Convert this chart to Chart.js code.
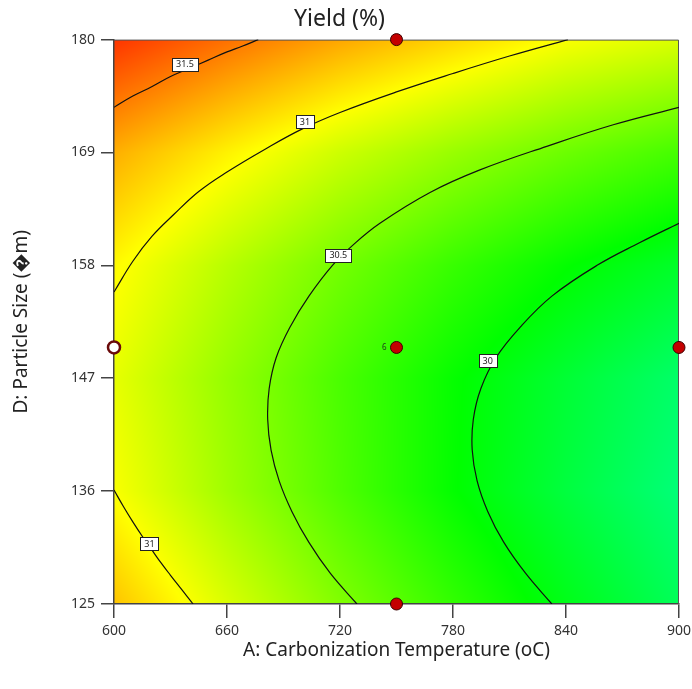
<!DOCTYPE html>
<html lang="en">
<head>
<meta charset="UTF-8">
<title>Yield (%) contour</title>
<style>
  body { margin: 0; background: #ffffff; }
  .wrap { width: 692px; height: 689px; }
</style>
</head>
<body>
<div class="wrap"><canvas id="contour"></canvas></div>
<script src="https://cdn.jsdelivr.net/npm/chart.js"></script>
<script>
// factor grid (the tick positions) and the yield read at each node
const tempTicks = [600, 660, 720, 780, 840, 900];
const sizeTicks = [125, 136, 147, 158, 169, 180];
const yield125 = [31.25, 30.88, 30.54, 30.24, 29.96, 29.71];
const yield136 = [31.00, 30.66, 30.35, 30.06, 29.81, 29.59];
const yield147 = [30.93, 30.62, 30.33, 30.07, 29.85, 29.65];
const yield158 = [31.04, 30.75, 30.49, 30.26, 30.06, 29.89];
const yield169 = [31.33, 31.07, 30.83, 30.63, 30.46, 30.31];
const yield180 = [31.80, 31.57, 31.36, 31.18, 31.00, 30.88];
const yieldGrid = [yield125, yield136, yield147, yield158, yield169, yield180];

// colour ramp of the response
const colorLevels = [28.1, 29.07, 30.05, 31.02, 32.0];
const colorStops = [[0, 0, 255], [0, 255, 255], [0, 255, 0], [255, 255, 0], [255, 0, 0]];

// contour lines (temperature, particle size)
const c315Temp = [600, 610, 620, 630, 640, 650, 660, 668, 676.6];
const c315Size = [173.4, 174.5, 175.4, 176.4, 177.2, 178.0, 178.8, 179.35, 180];
const c31aTemp = [600, 610, 620, 632, 645, 660, 680, 700, 720, 750, 780, 810, 841];
const c31aSize = [155.4, 158.4, 160.8, 163.0, 165.2, 167.1, 169.3, 171.3, 172.9, 174.9, 176.7, 178.4, 180];
const c31bTemp = [600, 605, 610, 615, 620, 625, 630, 636, 642];
const c31bSize = [136.1, 134.5, 133.0, 131.6, 130.3, 129.0, 127.8, 126.4, 125];
const c305Temp = [729, 714.8, 703.5, 694.5, 687.7, 683.4, 681.6, 682.4, 686.1, 693.5, 703.5, 716, 727, 741.2, 767.8, 794.3, 829.8, 865.1, 900];
const c305Size = [125, 128, 131, 134, 137, 140, 143, 146, 149, 152, 155, 158, 160, 162.1, 165.1, 167.3, 169.6, 171.7, 173.4];
const c30Temp = [832.5, 818.5, 807, 798.5, 792.8, 790.2, 790.8, 794.8, 802.8, 815.8, 832.5, 856.5, 879, 900];
const c30Size = [125, 128, 131, 134, 137, 140, 143, 146, 149, 152, 155, 158, 160.2, 162.1];

// contour labels
const labelText = ['31.5', '31', '30.5', '30', '31'];
const labelTemp = [637.7, 701.4, 719.1, 798.4, 618.8];
const labelSize = [177.6, 172.0, 159.0, 148.7, 130.9];

// design points
const designTemp = [750, 750, 900, 750];
const designSize = [180, 150, 150, 125];
const openTemp = [600];
const openSize = [150];
const centerRuns = '6';

const FONT = "'Noto Sans', 'DejaVu Sans', sans-serif";

function pts(xs, ys) {
    return xs.map((v, i) => ({x: v, y: ys[i]}));
}

function seg(arr, v) {
    let i = 0;
    while (i < arr.length - 2 && v > arr[i + 1]) i++;
    return i;
}

function gridValue(a, d) {
    const i = seg(tempTicks, a), j = seg(sizeTicks, d);
    const tx = (a - tempTicks[i]) / (tempTicks[i + 1] - tempTicks[i]);
    const ty = (d - sizeTicks[j]) / (sizeTicks[j + 1] - sizeTicks[j]);
    const r0 = yieldGrid[j], r1 = yieldGrid[j + 1];
    const lo = r0[i] + (r0[i + 1] - r0[i]) * tx;
    const hi = r1[i] + (r1[i + 1] - r1[i]) * tx;
    return lo + (hi - lo) * ty;
}

function colorFor(z) {
    if (z <= colorLevels[0]) return colorStops[0];
    const n = colorLevels.length - 1;
    if (z >= colorLevels[n]) return colorStops[n];
    let k = 0;
    while (z > colorLevels[k + 1]) k++;
    const t = (z - colorLevels[k]) / (colorLevels[k + 1] - colorLevels[k]);
    const c0 = colorStops[k], c1 = colorStops[k + 1];
    return [0, 1, 2].map(m => Math.round(c0[m] + (c1[m] - c0[m]) * t));
}

// filled response surface behind everything
const heatmap = {
    id: 'heatmap',
    beforeDraw(chart) {
        const {ctx, chartArea: ca, scales: {x, y}} = chart;
        const left = Math.round(ca.left), top = Math.round(ca.top);
        const w = Math.round(ca.right) - left, h = Math.round(ca.bottom) - top;
        const off = document.createElement('canvas');
        off.width = w; off.height = h;
        const octx = off.getContext('2d');
        const img = octx.createImageData(w, h);
        for (let j = 0; j < h; j++) {
            const d = y.getValueForPixel(top + j + 0.5);
            for (let i = 0; i < w; i++) {
                const a = x.getValueForPixel(left + i + 0.5);
                const c = colorFor(gridValue(a, d));
                const k = (j * w + i) * 4;
                img.data[k] = c[0];
                img.data[k + 1] = c[1];
                img.data[k + 2] = c[2];
                img.data[k + 3] = 255;
            }
        }
        octx.putImageData(img, 0, 0);
        ctx.drawImage(off, left, top);
    },
    beforeDatasetsDraw(chart) {
        // top and right edges of the frame
        const {ctx, chartArea: ca} = chart;
        ctx.save();
        ctx.strokeStyle = '#555';
        ctx.lineWidth = 1;
        ctx.beginPath();
        ctx.moveTo(ca.left, ca.top + 0.5);
        ctx.lineTo(ca.right - 0.5, ca.top + 0.5);
        ctx.lineTo(ca.right - 0.5, ca.bottom);
        ctx.stroke();
        ctx.restore();
    }
};

// boxed contour labels and the replicate count
const contourLabels = {
    id: 'contourLabels',
    afterDatasetsDraw(chart) {
        const {ctx, scales: {x, y}} = chart;
        ctx.save();
        ctx.font = '9px ' + FONT;
        ctx.textAlign = 'center';
        ctx.textBaseline = 'middle';
        labelText.forEach((t, i) => {
            const px = x.getPixelForValue(labelTemp[i]);
            const py = y.getPixelForValue(labelSize[i]);
            const bw = Math.round(ctx.measureText(t).width + 8);
            const bh = 13;
            const bx = Math.round(px - bw / 2) + 0.5, by = Math.round(py - bh / 2) + 0.5;
            ctx.fillStyle = '#ffffff';
            ctx.fillRect(bx, by, bw, bh);
            ctx.strokeStyle = '#222';
            ctx.lineWidth = 1;
            ctx.strokeRect(bx, by, bw, bh);
            ctx.fillStyle = '#222';
            ctx.fillText(t, px, py + 0.5);
        });
        ctx.font = '8px ' + FONT;
        ctx.textAlign = 'right';
        ctx.fillStyle = '#1d3a1d';
        ctx.fillText(centerRuns, x.getPixelForValue(designTemp[1]) - 10, y.getPixelForValue(designSize[1]));
        ctx.restore();
    }
};

const contourStyle = {
    showLine: true,
    pointRadius: 0,
    borderColor: '#111',
    borderWidth: 1.2,
    tension: 0.4
};

new Chart(document.getElementById('contour'), {
    type: 'scatter',
    data: {
        datasets: [
            {
                data: pts(designTemp, designSize),
                pointRadius: 6,
                backgroundColor: '#c40000',
                borderColor: '#3a0000',
                borderWidth: 1,
                clip: false
            },
            {
                data: pts(openTemp, openSize),
                pointRadius: 6,
                backgroundColor: '#ffffff',
                borderColor: '#6a0a0a',
                borderWidth: 2.5,
                clip: false
            },
            Object.assign({data: pts(c315Temp, c315Size)}, contourStyle),
            Object.assign({data: pts(c31aTemp, c31aSize)}, contourStyle),
            Object.assign({data: pts(c31bTemp, c31bSize)}, contourStyle),
            Object.assign({data: pts(c305Temp, c305Size)}, contourStyle),
            Object.assign({data: pts(c30Temp, c30Size)}, contourStyle)
        ]
    },
    options: {
        responsive: true,
        maintainAspectRatio: false,
        animation: false,
        layout: { padding: { left: 0, right: 13, top: 0, bottom: 0 } },
        plugins: {
            legend: { display: false },
            tooltip: { enabled: false },
            title: {
                display: true,
                text: 'Yield (%)',
                color: '#222',
                font: { family: FONT, size: 23, weight: 'normal' },
                padding: { top: 6, bottom: 6 }
            }
        },
        scales: {
            x: {
                type: 'linear',
                min: 600,
                max: 900,
                afterFit: s => { s.height = 85; s.paddingLeft = 0; s.paddingRight = 0; },
                ticks: { stepSize: 60, color: '#333', padding: 5, font: { family: FONT, size: 14 } },
                grid: { drawOnChartArea: false, tickLength: 14, color: '#444', lineWidth: 1.5 },
                border: { color: '#444', width: 1.5 },
                title: {
                    display: true,
                    text: 'A: Carbonization Temperature (oC)',
                    color: '#222',
                    font: { family: FONT, size: 19 },
                    padding: { top: 0, bottom: 27 }
                }
            },
            y: {
                type: 'linear',
                min: 125,
                max: 180,
                afterFit: s => { s.width = 114; },
                ticks: { stepSize: 11, color: '#333', padding: 6, font: { family: FONT, size: 14 } },
                grid: { drawOnChartArea: false, tickLength: 13, color: '#444', lineWidth: 1.5 },
                border: { color: '#444', width: 1.5 },
                title: {
                    display: true,
                    text: 'D: Particle Size (\uFFFDm)',
                    color: '#222',
                    font: { family: FONT, size: 19 },
                    padding: { top: 10, bottom: 0 }
                }
            }
        }
    },
    plugins: [heatmap, contourLabels]
});
</script>
</body>
</html>
